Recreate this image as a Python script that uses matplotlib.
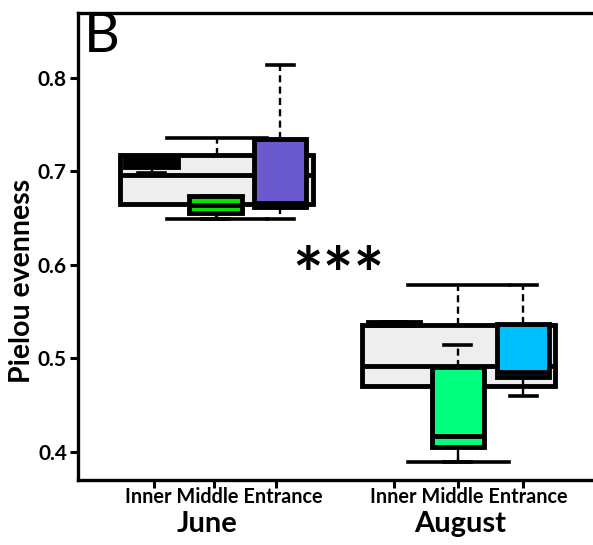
"""Pielou evenness box plots, June vs August, by cave zone."""

import matplotlib

matplotlib.use("Agg")

import matplotlib.pyplot as plt
from matplotlib.transforms import blended_transform_factory

plt.rcParams["font.family"] = ["Lato", "DejaVu Sans"]

MONTHS = ["June", "August"]
ZONES = ["Inner", "Middle", "Entrance"]

# overall box per month
month_q1 = [0.665, 0.471]
month_med = [0.696, 0.492]
month_q3 = [0.718, 0.536]
month_lo = [0.649, 0.389]
month_hi = [0.736, 0.579]

# per zone boxes: June Inner, Middle, Entrance, August Inner, Middle, Entrance
zone_q1 = [0.705, 0.656, 0.662, 0.536, 0.405, 0.480]
zone_med = [0.710, 0.664, 0.666, 0.538, 0.417, 0.486]
zone_q3 = [0.716, 0.674, 0.735, 0.539, 0.491, 0.537]
zone_lo = [0.698, 0.649, 0.649, 0.536, 0.389, 0.460]
zone_hi = [0.716, 0.674, 0.814, 0.539, 0.514, 0.579]
zone_colors = ["#000000", "#00E600", "#6A5ACD", "#000000", "#00FF7F", "#00BFFF"]

MONTH_POS = [2.02, 5.95]
ZONE_POS = [0.96, 2.0, 3.05, 4.9, 5.94, 7.0]
TICK_POS = [1.0, 1.98, 2.98, 4.9, 5.94, 7.0]


def _stats(q1, med, q3, lo, hi):
    return [
        {"q1": a, "med": b, "q3": c, "whislo": d, "whishi": e, "fliers": []}
        for a, b, c, d, e in zip(q1, med, q3, lo, hi)
    ]


def main() -> None:
    fig = plt.figure(figsize=(5.93, 5.45), dpi=100)
    ax = fig.add_axes([78 / 593, 65 / 545, 525 / 593, 467 / 545])

    box_lw = 3.5
    whisker = dict(color="black", linewidth=1.7, linestyle=(0, (3.0, 1.8)))

    ax.bxp(
        _stats(month_q1, month_med, month_q3, month_lo, month_hi),
        positions=MONTH_POS,
        widths=3.14,
        capwidths=1.63,
        patch_artist=True,
        showfliers=False,
        boxprops=dict(facecolor="#EEEEEE", edgecolor="black", linewidth=box_lw),
        medianprops=dict(color="black", linewidth=box_lw),
        whiskerprops=whisker,
        capprops=dict(color="black", linewidth=2.6),
        zorder=2,
    )

    small = ax.bxp(
        _stats(zone_q1, zone_med, zone_q3, zone_lo, zone_hi),
        positions=ZONE_POS,
        widths=0.85,
        capwidths=0.44,
        patch_artist=True,
        showfliers=False,
        boxprops=dict(edgecolor="black", linewidth=box_lw),
        medianprops=dict(color="black", linewidth=box_lw),
        whiskerprops=whisker,
        capprops=dict(color="black", linewidth=2.6),
        zorder=3,
    )
    for patch, color in zip(small["boxes"], zone_colors):
        patch.set_facecolor(color)

    ax.set_xlim(-0.236, 8.3)
    ax.set_ylim(0.370, 0.8695)
    ax.set_yticks([0.4, 0.5, 0.6, 0.7, 0.8])
    ax.set_yticklabels(["0.4", "0.5", "0.6", "0.7", "0.8"])
    ax.set_xticks(TICK_POS)
    ax.set_xticklabels([])

    for side in ["left", "bottom", "top", "right"]:
        ax.spines[side].set_linewidth(2.4)
    ax.tick_params(axis="y", direction="out", length=6, width=2.2, labelsize=15, pad=2)
    ax.tick_params(axis="x", direction="out", length=6, width=2.2)
    for label in ax.get_yticklabels():
        label.set_fontweight("bold")

    # zone names sit as one run of text under each month's ticks
    trans = blended_transform_factory(ax.transData, fig.transFigure)
    for xpos in [2.13, 6.12]:
        ax.text(xpos, 1 - 497 / 545, " ".join(ZONES), transform=trans, ha="center",
                va="center", fontsize=14.3, fontweight="bold")
    for month, xpos in zip(MONTHS, [1.86, 5.98]):
        ax.text(xpos, 1 - 524 / 545, month, transform=trans, ha="center", va="center",
                fontsize=21, fontweight="bold")

    ax.text(3.99, 0.583, "***", ha="center", va="center", fontsize=52, fontweight="bold")

    fig.text(22 / 593, 1 - 281 / 545, "Pielou evenness", rotation=90, ha="center",
             va="center", fontsize=20.5, fontweight="bold")
    fig.text(84 / 593, 1 - 37 / 545, "B", ha="left", va="center", fontsize=40)

    fig.savefig("out.png", dpi=100)
    plt.close(fig)


if __name__ == "__main__":
    main()
